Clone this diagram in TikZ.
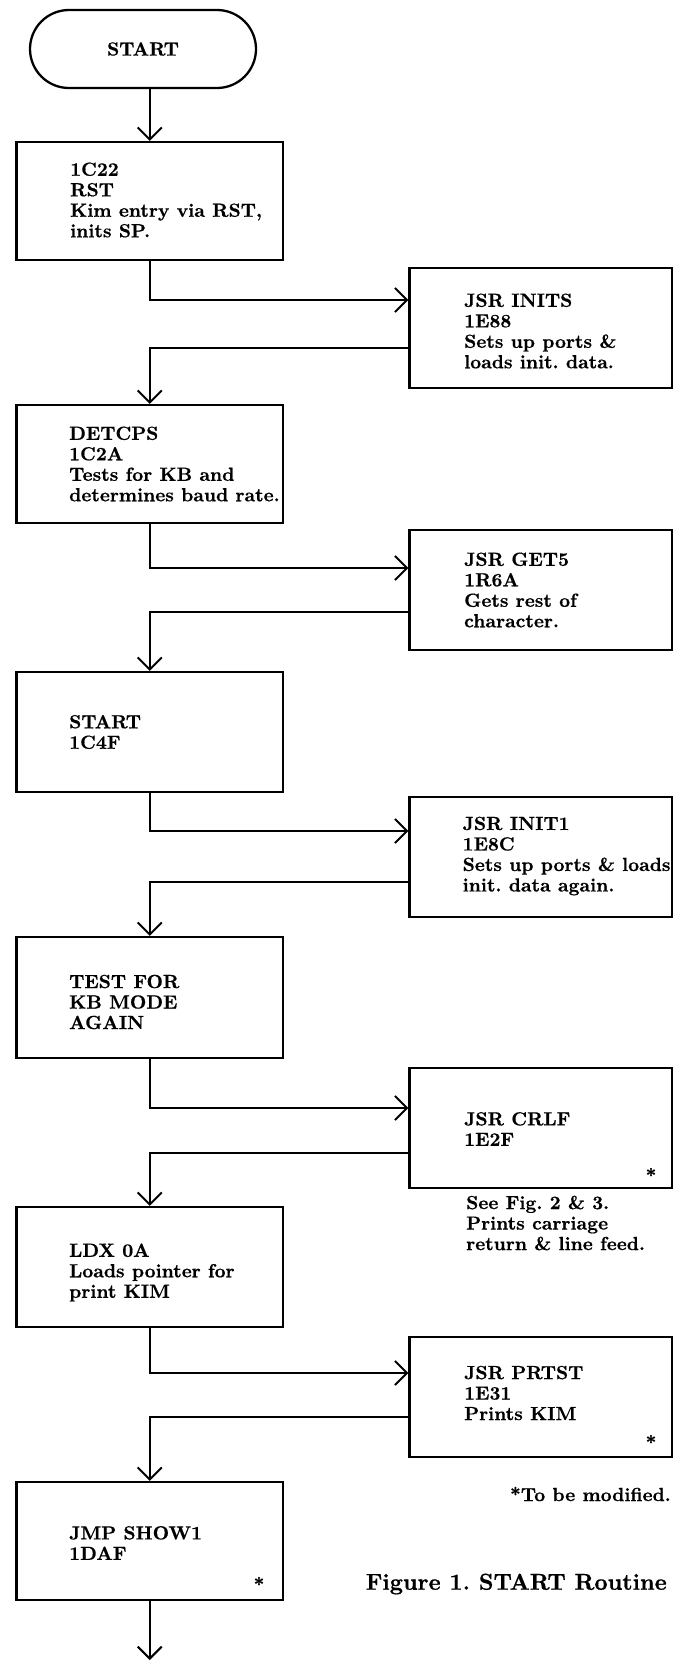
\documentclass[tikz,border=0pt]{standalone}
\usepackage{fontspec}
\newfontfamily\heavyfont{lmroman10-bold}[Extension=.otf, FakeBold=0.6]
\usetikzlibrary{arrows.meta,shapes.misc}
\frenchspacing
\begin{document}
\begin{tikzpicture}[x=1pt,y=-1pt,
  lbox/.style={draw, line width=2.3pt, minimum width=266.5pt, minimum height=#1, inner sep=0pt},
  rbox/.style={draw, line width=2.3pt, minimum width=262.5pt, minimum height=#1, inner sep=0pt},
  stad/.style={draw, rounded rectangle, line width=2.3pt, minimum width=226pt, minimum height=78pt, inner sep=0pt, font=\heavyfont\fontsize{19pt}{20.5pt}\selectfont},
  txt/.style={anchor=west, align=left, inner sep=0pt, font=\heavyfont\fontsize{19pt}{20.5pt}\selectfont},
  notetxt/.style={anchor=east, align=left, inner sep=0pt, font=\heavyfont\fontsize{19pt}{20.5pt}\selectfont},
  ast/.style={inner sep=0pt, font=\heavyfont\fontsize{19pt}{20pt}\selectfont},
  captxt/.style={anchor=east, inner sep=0pt, font=\heavyfont\fontsize{23pt}{27pt}\selectfont},
  flow/.style={line width=2pt, -{Straight Barb[length=12pt,width=24pt]}}
]
\fill[white] (0,0) rectangle (683,1662);
\useasboundingbox (0,0) rectangle (683,1662);

% left column
\node[stad] (L0) at (143,49) {START};
\node[lbox=118pt] (L1) at (149.75,201) {};
\node[txt] (T1) at (70,200) {1C22\\RST\\Kim entry via RST,\\inits SP.};
\node[lbox=118pt] (L2) at (149.75,464) {};
\node[txt] (T2) at (69,464) {DETCPS\\1C2A\\Tests for KB and\\determines baud rate.};
\node[lbox=120pt] (L3) at (149.75,732) {};
\node[txt] (T3) at (69,732) {START\\1C4F};
\node[lbox=121pt] (L4) at (149.75,997.5) {};
\node[txt] (T4) at (69,1002) {TEST FOR\\KB MODE\\AGAIN};
\node[lbox=120pt] (L5) at (149.75,1267) {};
\node[txt] (T5) at (69,1272.5) {LDX 0A\\Loads pointer for\\print KIM};
\node[lbox=118pt] (L6) at (149.75,1541) {};
\node[txt] (T6) at (69,1543) {JMP SHOW1\\1DAF};
\node[ast] (S6) at (259,1584) {*};

% right column
\node[rbox=120pt] (R1) at (540.75,328) {};
\node[txt] (U1) at (464,331) {JSR INITS\\1E88\\Sets up ports \&\\loads init. data.};
\node[rbox=120pt] (R2) at (540.75,590) {};
\node[txt] (U2) at (464,590) {JSR GET5\\1R6A\\Gets rest of\\character.};
\node[rbox=120pt] (R3) at (540.75,857) {};
\node[txt] (U3) at (462.5,856) {JSR INIT1\\1E8C\\Sets up ports \& loads\\init. data again.};
\node[rbox=120pt] (R4) at (540.75,1128) {};
\node[txt] (U4) at (464,1129) {JSR CRLF\\1E2F};
\node[ast] (S4) at (651,1175) {*};
\node[rbox=120pt] (R5) at (540.75,1397) {};
\node[txt] (U5) at (464,1393) {JSR PRTST\\1E31\\Prints KIM};
\node[ast] (S5) at (651,1442) {*};

% notes
\node[txt] (N1) at (466,1223) {See Fig. 2 \& 3.\\Prints carriage\\return \& line feed.};
\node[notetxt] (N2) at (671,1494) {*To be modified.};
\node[captxt] (N3) at (667,1584) {Figure 1. START Routine};

% connector levels
\coordinate (a1) at (0,300);  \coordinate (b1) at (0,348);
\coordinate (a2) at (0,568);  \coordinate (b2) at (0,612);
\coordinate (a3) at (0,831);  \coordinate (b3) at (0,882);
\coordinate (a4) at (0,1108); \coordinate (b4) at (0,1153);
\coordinate (a5) at (0,1373); \coordinate (b5) at (0,1417);
\coordinate (E) at (149.75,1660);

\draw[flow] (L0.south -| L1.north) -- (L1.north);
\draw[flow] (L1.south) |- (R1.west |- a1);
\draw[flow] (R1.west |- b1) -| (L2.north);
\draw[flow] (L2.south) |- (R2.west |- a2);
\draw[flow] (R2.west |- b2) -| (L3.north);
\draw[flow] (L3.south) |- (R3.west |- a3);
\draw[flow] (R3.west |- b3) -| (L4.north);
\draw[flow] (L4.south) |- (R4.west |- a4);
\draw[flow] (R4.west |- b4) -| (L5.north);
\draw[flow] (L5.south) |- (R5.west |- a5);
\draw[flow] (R5.west |- b5) -| (L6.north);
\draw[flow] (L6.south) -- (E);
\end{tikzpicture}
\end{document}
